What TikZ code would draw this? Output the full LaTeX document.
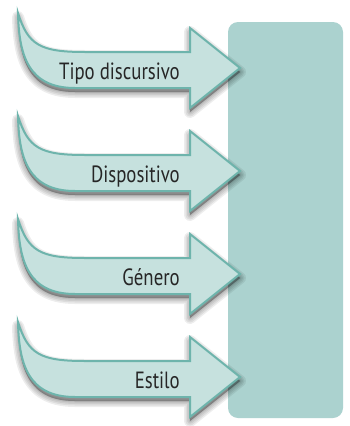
\documentclass[tikz,border=0pt]{standalone}
\usepackage{fontspec}
\setmainfont{PT Sans}[FakeStretch=0.8]
\usetikzlibrary{positioning}
\definecolor{panelfill}{RGB}{171,210,207}
\definecolor{arrowfill}{RGB}{198,225,222}
\definecolor{arrowline}{RGB}{110,180,172}

\begin{document}
\begin{tikzpicture}[x=1pt, y=-1pt, font=\fontsize{23.5}{26}\selectfont,
  bentpath/.style={insert path={(18,13) .. controls (28,45) and (40,52) .. (85,52)
      -- (190,52) -- (190,28) -- (240,68) -- (190,108) -- (190,88) -- (75,88)
      .. controls (28,88) and (19,55) .. (18,13) -- cycle}},
  shd/.style={draw=black, fill=black, draw opacity=0.07, fill opacity=0.07,
              line join=round, shift={(0,4)}},
  bent/.style={fill=arrowfill, draw=arrowline, line width=2pt, line join=miter},
  lbl/.style={anchor=base east, inner sep=0pt, text=black!85}]
\useasboundingbox (0,0) rectangle (349,426);
% panel on the right
\fill[panelfill, rounded corners=10pt] (228,22) rectangle (343,418);
% the four bent arrows
\foreach \txt [count=\i from 0] in {Tipo discursivo, Dispositivo, Género, Estilo} {
  \begin{scope}[shift={(0,103*\i)}]
    \foreach \w in {12,9,6,3,1} \path[shd, line width=\w pt, bentpath];
    \path[bent, bentpath];
    \node[lbl] (lbl\i) at (180,79) {\txt};
  \end{scope}
}
\end{tikzpicture}
\end{document}
